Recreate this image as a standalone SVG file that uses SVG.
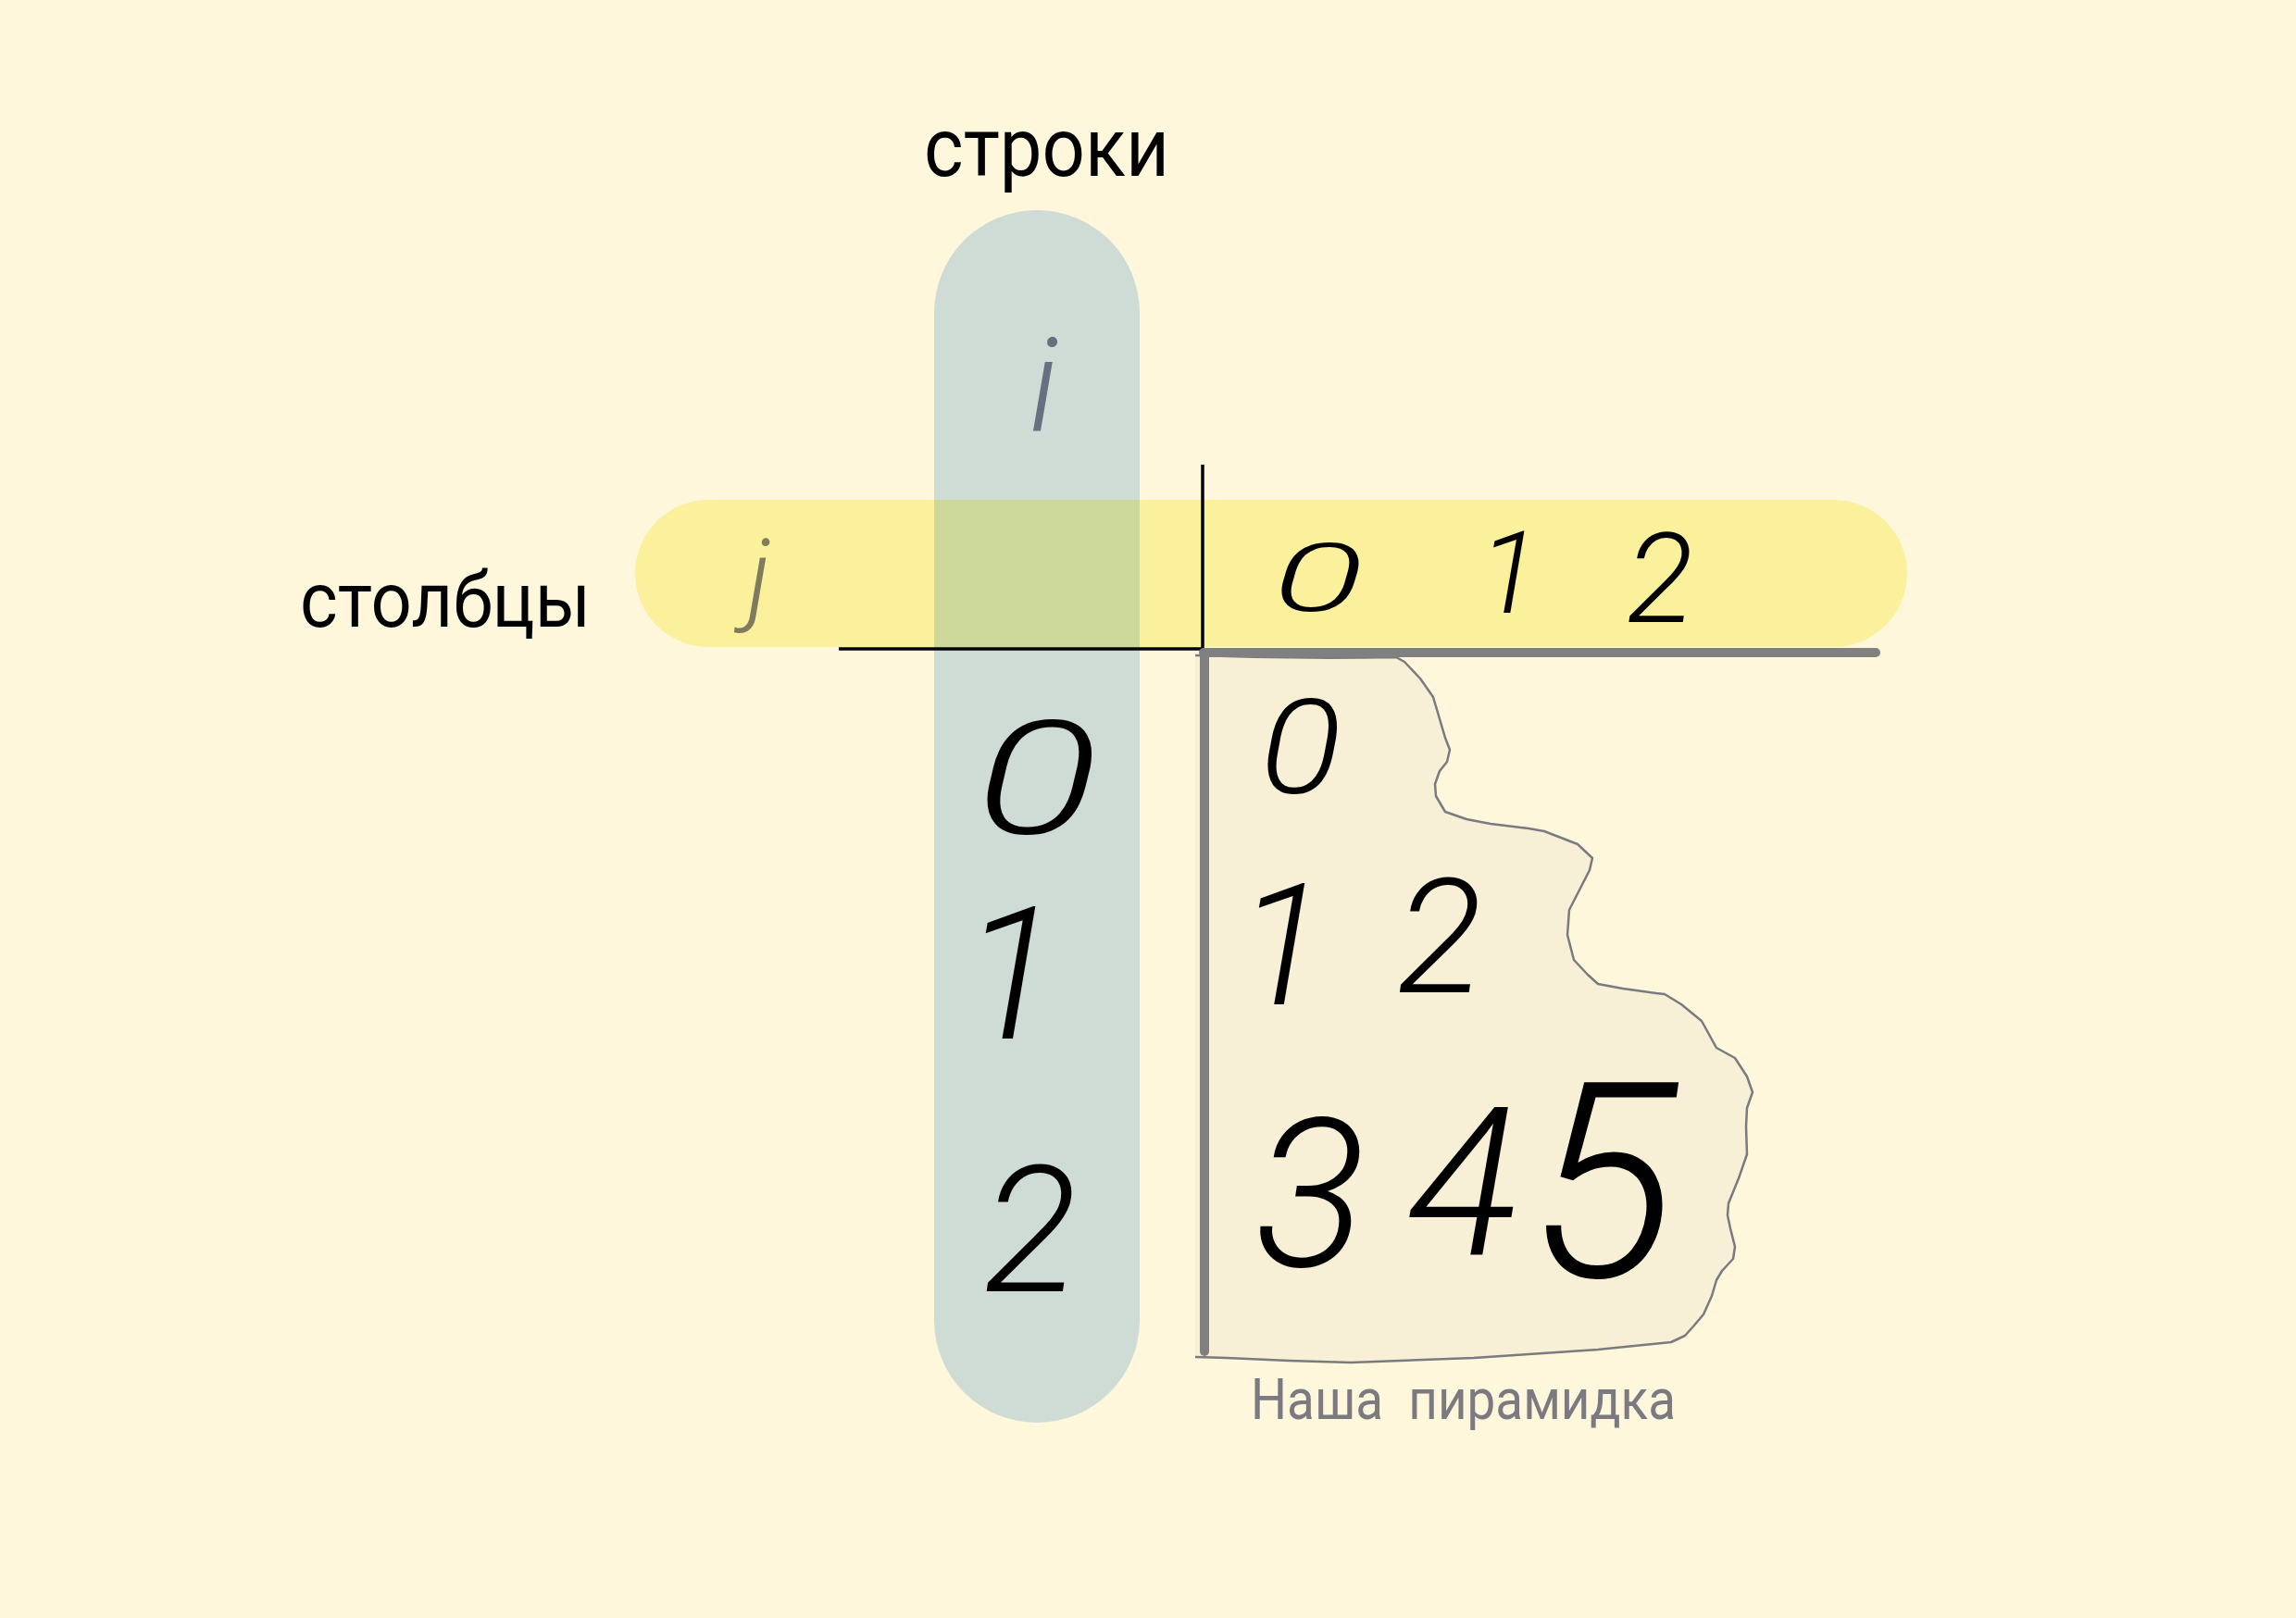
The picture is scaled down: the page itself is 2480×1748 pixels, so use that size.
<svg xmlns="http://www.w3.org/2000/svg" width="2480" height="1748" viewBox="0 0 2480 1748">
<style>
.lbl{font-family:Roboto,"Liberation Sans",sans-serif;fill:#000}
.hw{font-family:Roboto,"Liberation Sans",sans-serif;font-weight:300;font-style:italic;fill:#000;text-anchor:middle}
.ax{stroke:#000;stroke-width:3.5;fill:none}
.gx{stroke:#808080;stroke-width:10;stroke-linecap:round;fill:none}
</style>
<rect width="2480" height="1748" fill="#fef7dc"/>
<g id="rows-band">
<rect x="1009" y="227" width="222" height="1310" rx="111" ry="111" fill="#cfdcd6"/>
</g>
<g id="cols-band">
<rect x="686" y="540" width="1374" height="159" rx="79.5" ry="79.5" fill="#fbf09c"/>
<rect x="1009" y="540" width="222" height="159" fill="#ccd79a"/>
</g>
<g id="pyramid">
<path d="M1291,708 Q1400,712 1508,710 L1517,715 1534,733 1548,753 1561,797 1566,810 1563,823 1555,833 1550,847 1551,860 1561,877 1584,885 1610,890 1651,895 1668,898 1704,912 1720,927 1717,940 1695,983 1693,1010 1700,1037 1715,1053 1726,1063 1753,1068 1789,1073 1798,1074 1816,1085 1838,1103 1854,1132 1874,1143 1887,1163 1893,1180 1887,1197 1886,1217 1887,1247 1878,1273 1867,1300 1866,1313 1869,1327 1874,1347 1872,1360 1860,1373 1854,1383 1849,1400 1840,1420 1829,1433 1820,1443 1805,1450 1726,1458 1592,1467 1459,1472 1392,1470 1325,1467 1291,1466 Z" fill="#f8efd7"/>
<path d="M1291,708 Q1400,712 1508,710 L1517,715 1534,733 1548,753 1561,797 1566,810 1563,823 1555,833 1550,847 1551,860 1561,877 1584,885 1610,890 1651,895 1668,898 1704,912 1720,927 1717,940 1695,983 1693,1010 1700,1037 1715,1053 1726,1063 1753,1068 1789,1073 1798,1074 1816,1085 1838,1103 1854,1132 1874,1143 1887,1163 1893,1180 1887,1197 1886,1217 1887,1247 1878,1273 1867,1300 1866,1313 1869,1327 1874,1347 1872,1360 1860,1373 1854,1383 1849,1400 1840,1420 1829,1433 1820,1443 1805,1450 1726,1458 1592,1467 1459,1472 1392,1470 1325,1467 1291,1466" fill="none" stroke="#7a7a80" stroke-width="2.5" stroke-linejoin="round"/>
<text class="hw" x="1405" y="857" font-size="142" transform="translate(1405 0) scale(1.15 1) translate(-1405 0)">0</text>
<text class="hw" x="1385" y="1085" font-size="184">1</text>
<text class="hw" x="1555" y="1072" font-size="173">2</text>
<text class="hw" x="1415" y="1368" font-size="225">3</text>
<text class="hw" x="1580" y="1355" font-size="225">4</text>
<text class="hw" x="1731" y="1379" font-size="295">5</text>
</g>
<g id="connectors">
<line class="ax" x1="1299" y1="502" x2="1299" y2="702"/>
<line class="ax" x1="906" y1="701" x2="1299" y2="701"/>
<line class="gx" x1="1300" y1="705" x2="2026" y2="705"/>
<line class="gx" x1="1301" y1="705" x2="1301" y2="1460"/>
</g>
<g id="label-rows">
<text class="lbl" x="998" y="190" font-size="89" textLength="265" lengthAdjust="spacingAndGlyphs">строки</text>
</g>
<g id="label-cols">
<text class="lbl" x="324" y="677" font-size="84" textLength="314" lengthAdjust="spacingAndGlyphs">столбцы</text>
</g>
<g id="index-i">
<text class="hw" x="1127" y="465" font-size="140" style="fill:#667080">i</text>
</g>
<g id="index-j">
<text class="hw" x="820" y="661" font-size="110" style="fill:#7f7b5c">j</text>
</g>
<g id="row-indices">
<text class="hw" x="1120" y="900" font-size="170" transform="translate(1120 0) scale(1.45 1) translate(-1120 0)">0</text>
<text class="hw" x="1092" y="1122" font-size="200">1</text>
<text class="hw" x="1113" y="1395" font-size="190">2</text>
</g>
<g id="col-indices">
<text class="hw" x="1424" y="660" font-size="101" transform="translate(1424 0) scale(1.8 1) translate(-1424 0)">0</text>
<text class="hw" x="1630" y="662" font-size="124">1</text>
<text class="hw" x="1793" y="672" font-size="135">2</text>
</g>
<g id="caption">
<text x="1351" y="1533" font-family="Roboto,'Liberation Sans',sans-serif" font-size="61" fill="#7a7a80" textLength="459" lengthAdjust="spacingAndGlyphs" style="white-space:pre">Наша  пирамидка</text>
</g>
</svg>
